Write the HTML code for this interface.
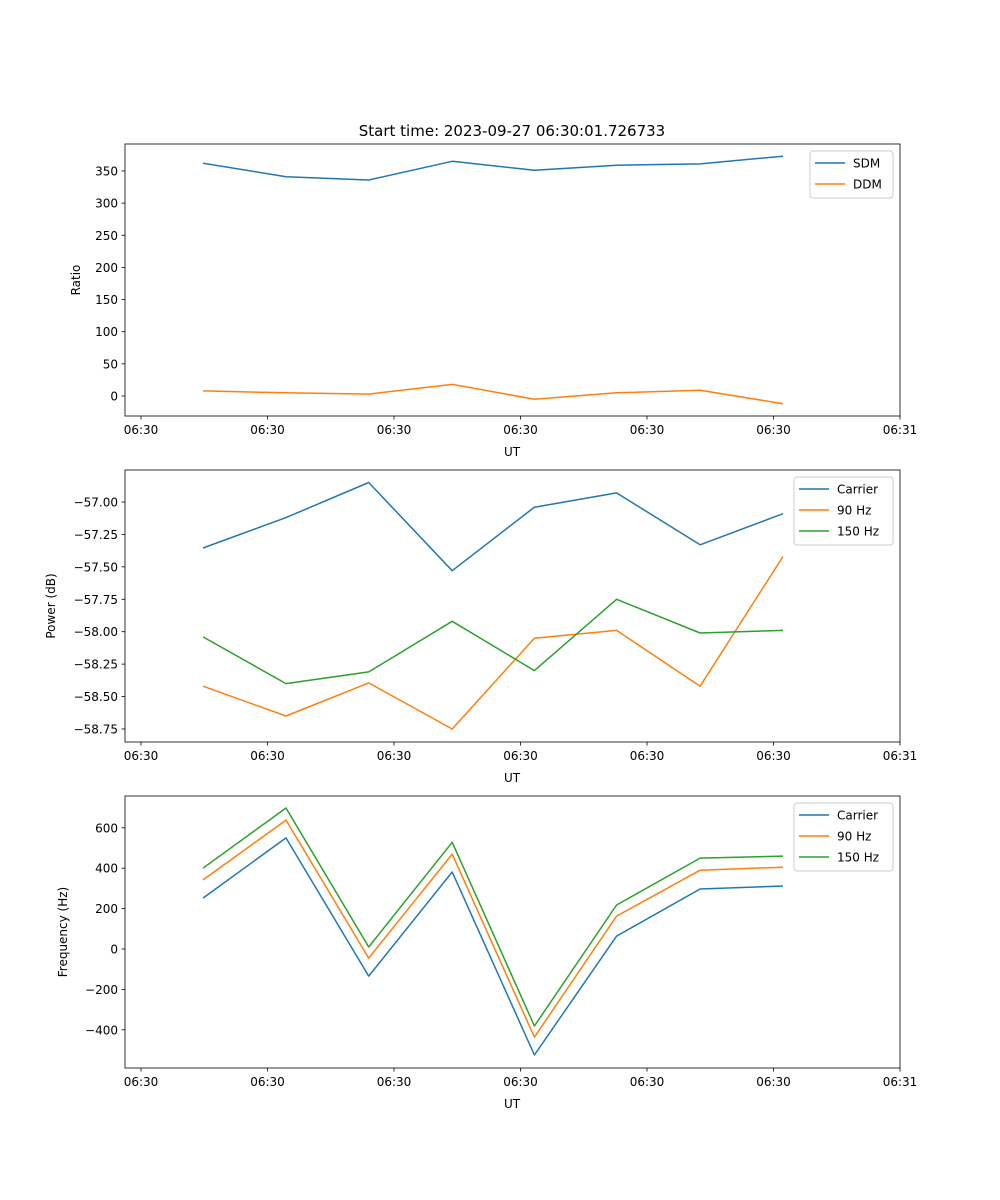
<!DOCTYPE html>
<html><head><meta charset="utf-8">
<style>
html,body{margin:0;padding:0;background:#fff;}
svg{display:block;font-family:"DejaVu Sans","Liberation Sans",sans-serif;}
</style></head>
<body>
<svg id="fig" width="1000" height="1200" viewBox="0 0 1000 1200" xmlns="http://www.w3.org/2000/svg">
<rect width="1000" height="1200" fill="#fff"/>
<text x="512" y="136" font-size="15" text-anchor="middle">Start time: 2023-09-27 06:30:01.726733</text>
</svg>
<script>
const times = [0.49, 1.146, 1.80, 2.46, 3.11, 3.76, 4.42, 5.075];
const xTickVals = [0, 1, 2, 3, 4, 5, 6];
const xTickLabels = ["06:30","06:30","06:30","06:30","06:30","06:30","06:31"];

const sdm = [362, 341, 336, 365, 351, 359, 361, 373];
const ddm = [8, 5, 3, 18, -5, 5, 9, -12];
const ratioTicks = [0, 50, 100, 150, 200, 250, 300, 350];

const powCarrier = [-57.355, -57.12, -56.85, -57.53, -57.04, -56.93, -57.33, -57.09];
const pow90 = [-58.42, -58.65, -58.395, -58.75, -58.05, -57.99, -58.42, -57.42];
const pow150 = [-58.04, -58.40, -58.31, -57.92, -58.30, -57.75, -58.01, -57.99];
const powTicks = [-58.75, -58.5, -58.25, -58.0, -57.75, -57.5, -57.25, -57.0];

const freqCarrier = [252, 550, -134, 381, -525, 64, 297, 312];
const freq90 = [342, 638, -45, 470, -436, 163, 390, 405];
const freq150 = [400, 698, 10, 528, -381, 218, 450, 460];
const freqTicks = [-400, -200, 0, 200, 400, 600];

const NS = "http://www.w3.org/2000/svg";
const svg = document.getElementById("fig");
const L = 125, R = 900;
const xPx = t => 141 + t * 126.5;
function mk(tag, attrs, parent) {
  const e = document.createElementNS(NS, tag);
  for (const k in attrs) e.setAttribute(k, attrs[k]);
  (parent || svg).appendChild(e);
  return e;
}

function panel(cfg) {
  const g = mk("g", {});
  
  
  const yPx = v => cfg.yRef + (v - cfg.vRef) * cfg.scale;
  cfg.series.forEach(s => {
    const pts = s.vals.map((v, i) => xPx(times[i]).toFixed(1) + "," + yPx(v).toFixed(1)).join(" ");
    const pl = mk("polyline", {points: pts, fill: "none", stroke: s.color, "stroke-width": 1.5, "stroke-linejoin": "round"}, g);
    
    
  });
  const fr = mk("rect", {x: L, y: cfg.top, width: R - L, height: cfg.bot - cfg.top, fill: "none", stroke: "#000", "stroke-width": 0.8}, g);
  
  
  xTickVals.forEach((t, i) => {
    const x = xPx(t);
    mk("line", {x1: x, x2: x, y1: cfg.bot, y2: cfg.bot + 3.5, stroke: "#000", "stroke-width": 0.8}, g);
    const tx = mk("text", {x: x, y: cfg.bot + 18, "font-size": 12, "text-anchor": "middle"}, g);
    tx.textContent = xTickLabels[i];
    
    
  });
  const xl = mk("text", {x: 512, y: cfg.bot + 40, "font-size": 12, "text-anchor": "middle"}, g);
  xl.textContent = "UT";
  
  
  cfg.ticks.forEach(v => {
    const y = yPx(v);
    mk("line", {x1: L - 3.5, x2: L, y1: y, y2: y, stroke: "#000", "stroke-width": 0.8}, g);
    const tx = mk("text", {x: L - 7, y: y + 4.5, "font-size": 12, "text-anchor": "end"}, g);
    tx.textContent = cfg.fmt(v);
    
    
  });
  const cy = (cfg.top + cfg.bot) / 2;
  const yl = mk("text", {x: cfg.ylx, y: cy, "font-size": 12, "text-anchor": "middle", transform: `rotate(-90 ${cfg.ylx} ${cy})`}, g);
  yl.textContent = cfg.ylabel;
  
  
  const n = cfg.series.length;
  const lw = cfg.legW, lx = R - 7 - lw, ly = cfg.top + 7;
  const lg = mk("g", {}, g);
  
  
  mk("rect", {x: lx, y: ly, width: lw, height: 5 + n * 21, rx: 3, fill: "#fff", "fill-opacity": 0.8, stroke: "#ccc", "stroke-width": 1}, lg);
  cfg.series.forEach((s, i) => {
    const yy = ly + 12 + i * 21;
    const e = mk("g", {}, lg);
    
    
    mk("line", {x1: lx + 5, x2: lx + 35, y1: yy, y2: yy, stroke: s.color, "stroke-width": 1.5}, e);
    const t = mk("text", {x: lx + 43, y: yy + 4.5, "font-size": 12}, e);
    t.textContent = s.label;
  });
}

const C0 = "#1f77b4", C1 = "#ff7f0e", C2 = "#2ca02c";
panel({name: "ratio-panel", top: 144, bot: 416, yRef: 396, vRef: 0, scale: -0.643,
  ticks: ratioTicks, fmt: v => String(v), ylabel: "Ratio", ylx: 80, legW: 83,
  series: [{id: "sdm", label: "SDM", vals: sdm, color: C0}, {id: "ddm", label: "DDM", vals: ddm, color: C1}]});
panel({name: "power-panel", top: 470, bot: 742, yRef: 502, vRef: -57.0, scale: -129.7,
  ticks: powTicks, fmt: v => "\u2212" + Math.abs(v).toFixed(2), ylabel: "Power (dB)", ylx: 55, legW: 99,
  series: [{id: "carrier", label: "Carrier", vals: powCarrier, color: C0}, {id: "90hz", label: "90 Hz", vals: pow90, color: C1}, {id: "150hz", label: "150 Hz", vals: pow150, color: C2}]});
panel({name: "frequency-panel", top: 796, bot: 1068, yRef: 949, vRef: 0, scale: -0.202,
  ticks: freqTicks, fmt: v => (v < 0 ? "\u2212" : "") + Math.abs(v), ylabel: "Frequency (Hz)", ylx: 67, legW: 99,
  series: [{id: "carrier", label: "Carrier", vals: freqCarrier, color: C0}, {id: "90hz", label: "90 Hz", vals: freq90, color: C1}, {id: "150hz", label: "150 Hz", vals: freq150, color: C2}]});
</script>
</body></html>
